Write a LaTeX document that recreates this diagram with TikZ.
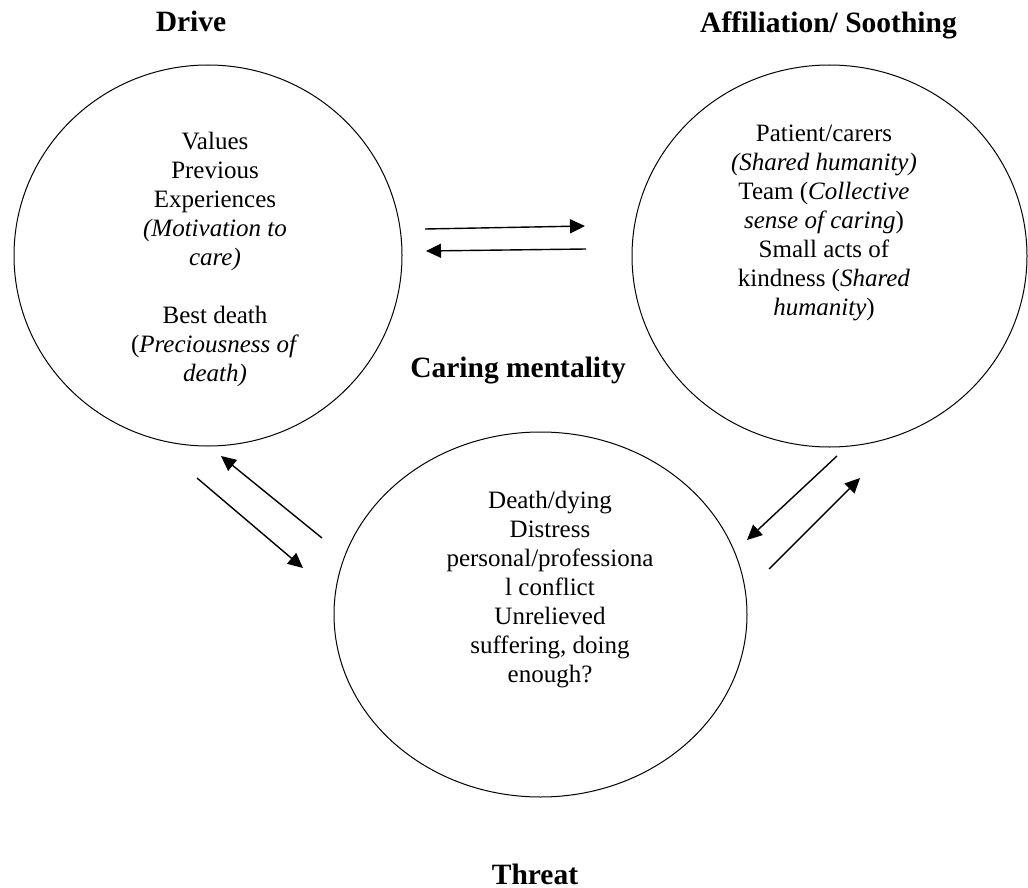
\documentclass[tikz,border=0pt]{standalone}
\usepackage{fontspec}
\setmainfont{Liberation Serif}
\usetikzlibrary{shapes.geometric,arrows.meta}

\begin{document}
\begin{tikzpicture}[x=0.5pt,y=-0.5pt,
  system/.style={ellipse,draw,line width=0.5pt},
  inside/.style={align=center,anchor=north,inner sep=0pt,
    font=\fontsize{12.5}{14.5}\selectfont},
  heading/.style={anchor=base,inner sep=0pt,
    font=\fontsize{14.75}{17}\selectfont\bfseries},
  flow/.style={line width=0.7pt,-{Triangle[length=7.5pt,width=7pt]}}]
  \useasboundingbox (0,0) rectangle (1028,888);

  \node[system,minimum width=194pt,minimum height=190.5pt] (drive) at (208,255.5) {};
  \node[system,minimum width=197.5pt,minimum height=191pt] (soothing) at (829.5,256) {};
  \node[system,minimum width=206.5pt,minimum height=182.5pt] (threat) at (540.5,614.5) {};

  \node[inside] (drivetext) at (215,132) {Values\\Previous\\Experiences\\
    \textit{(Motivation to}\\\textit{care)}\\[14.5pt]
    Best death\\(\textit{Preciousness of}\\\textit{death)}};
  \node[inside] (soothingtext) at (824,125) {Patient/carers\\
    \textit{(Shared humanity)}\\Team (\textit{Collective}\\
    \textit{sense of caring})\\Small acts of\\kindness (\textit{Shared}\\
    \textit{humanity})};
  \node[inside] (threattext) at (550,491) {Death/dying\\Distress\\
    personal/professiona\\l conflict\\Unrelieved\\suffering, doing\\enough?};

  \node[heading] (drivelabel) at (191,32) {Drive};
  \node[heading] (soothinglabel) at (828.5,33) {Affiliation/ Soothing};
  \node[heading] (caring) at (518,377) {Caring mentality};
  \node[heading] (threatlabel) at (535,884) {Threat};

  \coordinate (ds1) at (425,229);
  \coordinate (ds2) at (585,226);
  \coordinate (sd1) at (586,249);
  \coordinate (sd2) at (426,251);
  \coordinate (dt1) at (197,478);
  \coordinate (dt2) at (303,568);
  \coordinate (td1) at (322,538);
  \coordinate (td2) at (221,456);
  \coordinate (st1) at (837,456);
  \coordinate (st2) at (747,540);
  \coordinate (ts1) at (769,569);
  \coordinate (ts2) at (860,478);

  \draw[flow] (ds1) -- (ds2);
  \draw[flow] (sd1) -- (sd2);
  \draw[flow] (dt1) -- (dt2);
  \draw[flow] (td1) -- (td2);
  \draw[flow] (st1) -- (st2);
  \draw[flow] (ts1) -- (ts2);

\end{tikzpicture}
\end{document}
